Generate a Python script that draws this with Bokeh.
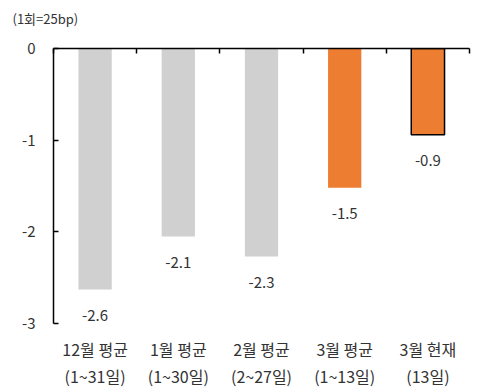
from bokeh.plotting import figure
from bokeh.models import ColumnDataSource, LinearAxis, FixedTicker, Range1d, LabelSet, Label
from bokeh.core.properties import value
from bokeh.embed import file_html
from bokeh.resources import INLINE

line1 = ["12월 평균", "1월 평균", "2월 평균", "3월 평균", "3월 현재"]
line2 = ["(1~31일)", "(1~30일)", "(2~27일)", "(1~13일)", "(13일)"]
values = [-2.63, -2.05, -2.27, -1.52, -0.94]
value_labels = ["-2.6", "-2.1", "-2.3", "-1.5", "-0.9"]
colors = ["#D0D0D0", "#D0D0D0", "#D0D0D0", "#ED7D31", "#ED7D31"]
outline = [None, None, None, None, "#000000"]
unit_text = "(1회=25bp)"
y_ticks = [0, -1, -2, -3]

FONT = "Noto Sans CJK KR"
TXT = "#333333"

xs = [i + 0.5 for i in range(len(values))]
src = ColumnDataSource(dict(x=xs, top=[0] * len(values), bottom=values,
                            color=colors, lc=outline,
                            lab=value_labels))

p = figure(width=475, height=392, output_backend="svg", toolbar_location=None,
           x_range=Range1d(0, 5), y_range=Range1d(-3, 0),
           min_border_left=53, min_border_right=6, min_border_top=48, min_border_bottom=69,
           x_axis_location=None, y_axis_location=None)
p.outline_line_color = None
p.grid.visible = False
p.background_fill_color = "white"

p.vbar(x="x", width=0.4, top="top", bottom="bottom", fill_color="color",
       line_color="lc", line_width=1.5, source=src)

ls = LabelSet(x="x", y="bottom", text="lab", source=src, text_align="center",
              text_baseline="middle", y_offset=-26, text_font=value(FONT),
              text_font_size="15px", text_color=TXT)
p.add_layout(ls)

ya = LinearAxis(ticker=FixedTicker(ticks=y_ticks))
ya.axis_line_color = "black"
ya.axis_line_width = 1.5
ya.major_tick_in = 5
ya.major_tick_out = 0
ya.major_tick_line_width = 1.5
ya.minor_tick_line_color = None
ya.major_label_text_font = FONT
ya.major_label_text_font_size = "15px"
ya.major_label_text_color = TXT
ya.major_label_standoff = 18
ya.major_label_overrides = {0: "0", -1: "-1", -2: "-2", -3: "-3"}
p.add_layout(ya, "left")

ta = LinearAxis(ticker=FixedTicker(ticks=[0, 1, 2, 3, 4, 5]))
ta.axis_line_color = "black"
ta.axis_line_width = 1.5
ta.major_tick_in = 5
ta.major_tick_out = 0
ta.major_tick_line_width = 1.5
ta.minor_tick_line_color = None
ta.major_label_text_font_size = "0px"
ta.major_label_text_color = None
p.add_layout(ta, "above")

b1 = LinearAxis(ticker=FixedTicker(ticks=xs))
b1.major_label_overrides = {x: t for x, t in zip(xs, line1)}
b2 = LinearAxis(ticker=FixedTicker(ticks=xs))
b2.major_label_overrides = {x: t for x, t in zip(xs, line2)}
for ax, so in ((b1, 7), (b2, -6)):
    ax.axis_line_color = None
    ax.major_tick_line_color = None
    ax.minor_tick_line_color = None
    ax.major_label_text_font = FONT
    ax.major_label_text_font_size = "16px"
    ax.major_label_text_color = TXT
    ax.major_label_standoff = so
    p.add_layout(ax, "below")

unit = Label(x=-41, y=30, x_units="screen", y_units="screen", text=unit_text,
             text_font=FONT, text_font_size="13px", text_color=TXT,
             text_align="left", text_baseline="middle")
p.add_layout(unit, "above")

open("out.html", "w").write(file_html(p, INLINE))
